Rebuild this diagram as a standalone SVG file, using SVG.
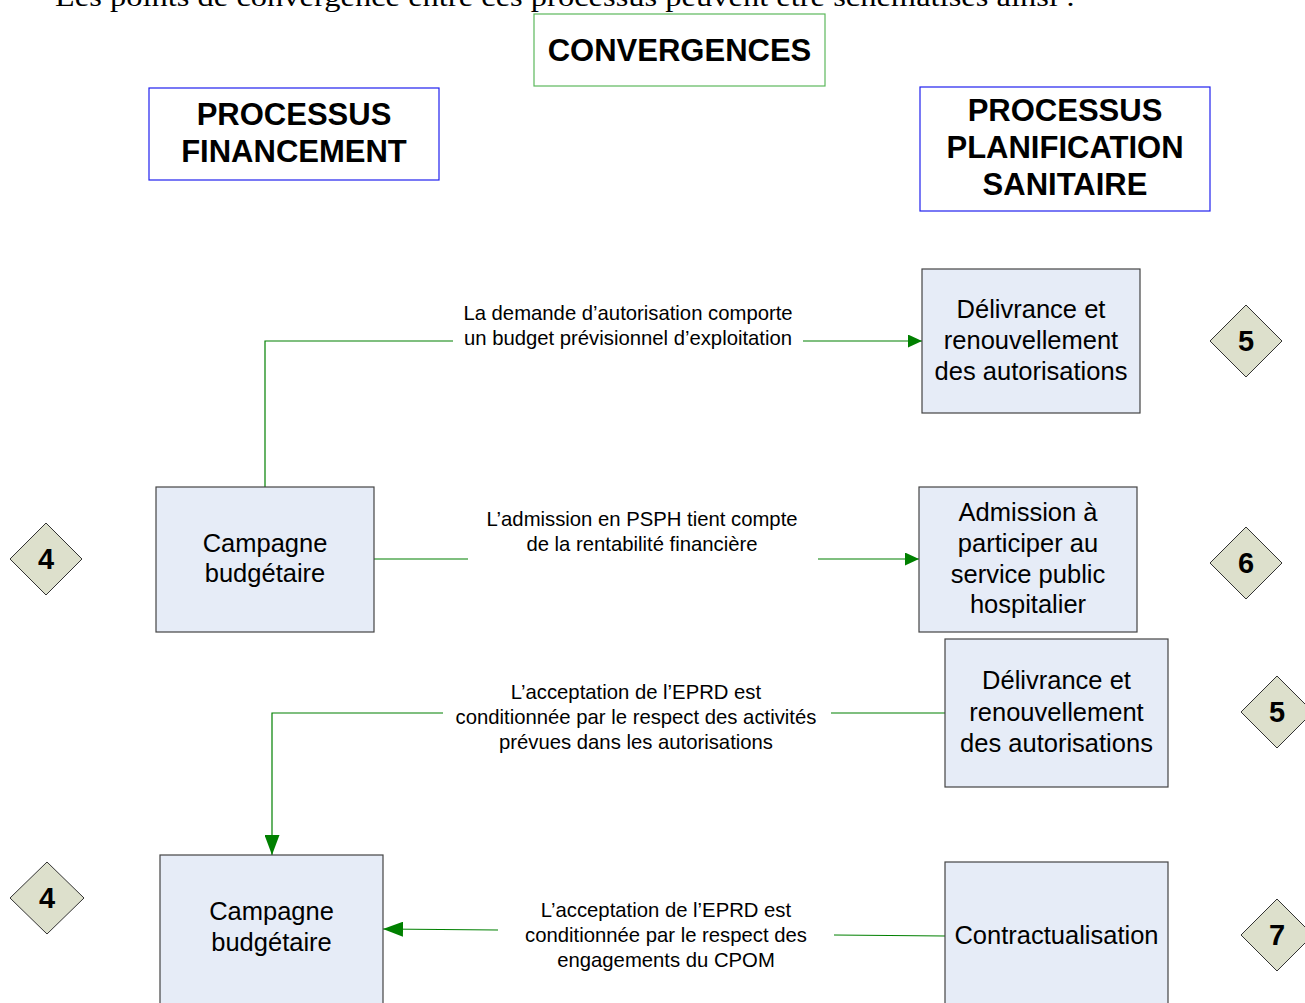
<svg xmlns="http://www.w3.org/2000/svg" width="1305" height="1003" viewBox="0 0 1305 1003">
  <defs>
    <marker id="arrow" viewBox="0 0 14 13" refX="14" refY="6.5" markerWidth="14" markerHeight="13" markerUnits="userSpaceOnUse" orient="auto">
      <path d="M0,0 L14,6.5 L0,13 Z" fill="#008000"/>
    </marker>
    <marker id="arrow-lg" viewBox="0 0 20 15" refX="20" refY="7.5" markerWidth="20" markerHeight="15" markerUnits="userSpaceOnUse" orient="auto">
      <path d="M0,0 L20,7.5 L0,15 Z" fill="#008000"/>
    </marker>
    <style>
      .title { fill: #fff; stroke-width: 1.2; }
      .t-green { stroke: #5cb85c; }
      .t-blue { stroke: #2020ee; }
      .title-text { font-family: "Liberation Sans", Arial, sans-serif; font-weight: bold; font-size: 31px; fill: #000; text-anchor: middle; }
      .box { fill: #e6ecf7; stroke: #444; stroke-width: 1.2; }
      .box-text { font-family: "Liberation Sans", Arial, sans-serif; font-size: 25.5px; fill: #000; text-anchor: middle; }
      .diamond { fill: #dde0cc; stroke: #333; stroke-width: 1; }
      .num { font-family: "Liberation Sans", Arial, sans-serif; font-weight: bold; font-size: 29px; fill: #000; text-anchor: middle; }
      .link { fill: none; stroke: #008000; stroke-width: 1.2; }
      .label { font-family: "Liberation Sans", Arial, sans-serif; font-size: 20.3px; fill: #000; text-anchor: middle; }
      .intro { font-family: "Liberation Serif", "Times New Roman", serif; font-size: 28px; fill: #000; }
    </style>
  </defs>

  <rect width="1305" height="1003" fill="#fff"/>

  <!-- running text line above the figure -->
  <text class="intro" x="55" y="6" textLength="1020" lengthAdjust="spacingAndGlyphs">Les points de convergence entre ces processus peuvent être schématisés ainsi :</text>

  <!-- column headers -->
  <g id="convergences">
    <rect class="title t-green" x="534" y="14" width="291" height="72"/>
    <text class="title-text" x="679.5" y="61">CONVERGENCES</text>
  </g>
  <g id="processus-financement">
    <rect class="title t-blue" x="149" y="88" width="290" height="92"/>
    <text class="title-text" x="294" y="125">PROCESSUS</text>
    <text class="title-text" x="294" y="162">FINANCEMENT</text>
  </g>
  <g id="processus-planification">
    <rect class="title t-blue" x="920" y="87" width="290" height="124"/>
    <text class="title-text" x="1065" y="121">PROCESSUS</text>
    <text class="title-text" x="1065" y="158">PLANIFICATION</text>
    <text class="title-text" x="1065" y="195">SANITAIRE</text>
  </g>

  <!-- connectors -->
  <g id="connectors">
    <polyline class="link" points="265,487 265,341 453,341"/>
    <line class="link" x1="803" y1="341" x2="922" y2="341" marker-end="url(#arrow)"/>
    <text class="label" x="628" y="320">La demande d’autorisation comporte</text>
    <text class="label" x="628" y="345">un budget prévisionnel d’exploitation</text>

    <line class="link" x1="374" y1="559" x2="468" y2="559"/>
    <line class="link" x1="818" y1="559" x2="919" y2="559" marker-end="url(#arrow)"/>
    <text class="label" x="642" y="526">L’admission en PSPH tient compte</text>
    <text class="label" x="642" y="551">de la rentabilité financière</text>

    <line class="link" x1="945" y1="713" x2="831" y2="713"/>
    <polyline class="link" points="443,713 272,713 272,855" marker-end="url(#arrow-lg)"/>
    <text class="label" x="636" y="699">L’acceptation de l’EPRD est</text>
    <text class="label" x="636" y="724">conditionnée par le respect des activités</text>
    <text class="label" x="636" y="749">prévues dans les autorisations</text>

    <line class="link" x1="945" y1="936" x2="834" y2="935"/>
    <line class="link" x1="498" y1="930" x2="383" y2="929" marker-end="url(#arrow-lg)"/>
    <text class="label" x="666" y="917">L’acceptation de l’EPRD est</text>
    <text class="label" x="666" y="942">conditionnée par le respect des</text>
    <text class="label" x="666" y="967">engagements du CPOM</text>
  </g>

  <!-- process boxes -->
  <g id="delivrance-1">
    <rect class="box" x="922" y="269" width="218" height="144"/>
    <text class="box-text" x="1031" y="318">Délivrance et</text>
    <text class="box-text" x="1031" y="349">renouvellement</text>
    <text class="box-text" x="1031" y="380">des autorisations</text>
  </g>
  <g id="campagne-1">
    <rect class="box" x="156" y="487" width="218" height="145"/>
    <text class="box-text" x="265" y="552">Campagne</text>
    <text class="box-text" x="265" y="582">budgétaire</text>
  </g>
  <g id="admission">
    <rect class="box" x="919" y="487" width="218" height="145"/>
    <text class="box-text" x="1028" y="521">Admission à</text>
    <text class="box-text" x="1028" y="552">participer au</text>
    <text class="box-text" x="1028" y="583">service public</text>
    <text class="box-text" x="1028" y="613">hospitalier</text>
  </g>
  <g id="delivrance-2">
    <rect class="box" x="945" y="639" width="223" height="148"/>
    <text class="box-text" x="1056.5" y="689">Délivrance et</text>
    <text class="box-text" x="1056.5" y="721">renouvellement</text>
    <text class="box-text" x="1056.5" y="752">des autorisations</text>
  </g>
  <g id="campagne-2">
    <rect class="box" x="160" y="855" width="223" height="160"/>
    <text class="box-text" x="271.5" y="920">Campagne</text>
    <text class="box-text" x="271.5" y="951">budgétaire</text>
  </g>
  <g id="contractualisation">
    <rect class="box" x="945" y="862" width="223" height="160"/>
    <text class="box-text" x="1056.5" y="944">Contractualisation</text>
  </g>

  <!-- numbered markers -->
  <g id="marker-5a">
    <polygon class="diamond" points="1246,305 1282,341 1246,377 1210,341"/>
    <text class="num" x="1246" y="351">5</text>
  </g>
  <g id="marker-4a">
    <polygon class="diamond" points="46,523 82,559 46,595 10,559"/>
    <text class="num" x="46" y="569">4</text>
  </g>
  <g id="marker-6">
    <polygon class="diamond" points="1246,527 1282,563 1246,599 1210,563"/>
    <text class="num" x="1246" y="573">6</text>
  </g>
  <g id="marker-5b">
    <polygon class="diamond" points="1277,676 1313,712 1277,748 1241,712"/>
    <text class="num" x="1277" y="722">5</text>
  </g>
  <g id="marker-4b">
    <polygon class="diamond" points="47,862 84,898 47,934 10,898"/>
    <text class="num" x="47" y="908">4</text>
  </g>
  <g id="marker-7">
    <polygon class="diamond" points="1277,899 1313,935 1277,971 1241,935"/>
    <text class="num" x="1277" y="945">7</text>
  </g>
</svg>
